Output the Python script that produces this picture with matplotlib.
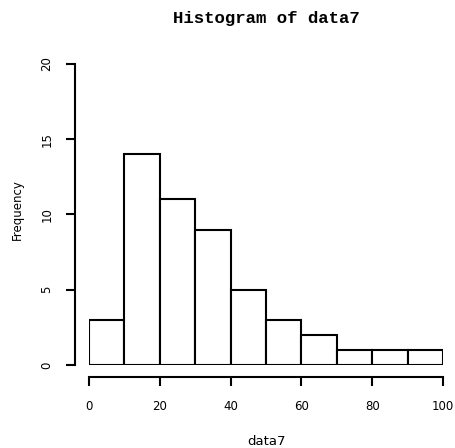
import matplotlib
matplotlib.use("Agg")
import matplotlib.pyplot as plt

bin_edges = [0, 10, 20, 30, 40, 50, 60, 70, 80, 90, 100]
counts = [3, 14, 11, 9, 5, 3, 2, 1, 1, 1]
xticks = [0, 20, 40, 60, 80, 100]
yticks = [0, 5, 10, 15, 20]

W, H, DPI = 455, 448, 100
fig = plt.figure(figsize=(W / DPI, H / DPI), dpi=DPI)
ax = fig.add_axes([89 / W, (H - 365) / H, 354 / W, 301 / H])

lefts = bin_edges[:-1]
widths = [b - a for a, b in zip(bin_edges[:-1], bin_edges[1:])]
ax.bar(lefts, counts, width=widths, align='edge', facecolor='white',
       edgecolor='black', linewidth=1.5)

ax.set_xlim(0, 100)
ax.set_ylim(0, 20)
for s in ['top', 'right']:
    ax.spines[s].set_visible(False)
ax.spines['left'].set_position(('outward', 14 * 72 / DPI))
ax.spines['bottom'].set_position(('outward', 12 * 72 / DPI))
ax.spines['left'].set_bounds(0, 20)
ax.spines['bottom'].set_bounds(0, 100)
ax.spines['left'].set_linewidth(1.5)
ax.spines['bottom'].set_linewidth(1.5)

ax.set_xticks(xticks)
ax.set_yticks(yticks)
ax.set_xticklabels([str(v) for v in xticks], fontsize=8.5, family='DejaVu Sans')
ax.set_yticklabels([str(v) for v in yticks], fontsize=8.5, family='DejaVu Sans',
                   rotation=90, va='center')
ax.tick_params(axis='x', direction='out', length=6.5, width=1.5, pad=10)
ax.tick_params(axis='y', direction='out', length=6.5, width=1.5, pad=9)

fig.text((89 + 443) / 2 / W, 1 - 18 / H, 'Histogram of data7',
         family='Liberation Mono', fontweight='bold', fontsize=12.5,
         ha='center', va='center')
fig.text((89 + 443) / 2 / W, 1 - 441 / H, 'data7', family='DejaVu Sans',
         fontsize=9.5, ha='center', va='center')
fig.text(17 / W, 1 - 210 / H, 'Frequency', family='DejaVu Sans', fontsize=8.5,
         rotation=90, ha='center', va='center')

fig.savefig('out.png', dpi=DPI)
